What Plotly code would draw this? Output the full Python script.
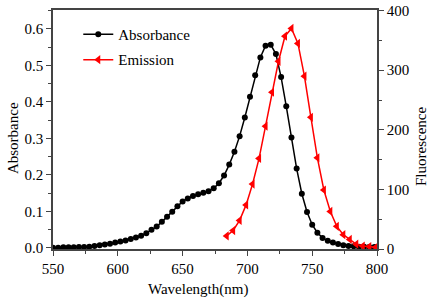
import plotly.graph_objects as go

abs_wl = list(range(550, 799, 4))
abs_val = [0.000, 0.000, 0.001, 0.001, 0.001, 0.002, 0.002, 0.003, 0.005, 0.007,
           0.009, 0.011, 0.014, 0.017, 0.020, 0.024, 0.028, 0.033, 0.040, 0.049,
           0.058, 0.071, 0.085, 0.099, 0.114, 0.127, 0.135, 0.142, 0.147, 0.151,
           0.155, 0.163, 0.177, 0.198, 0.228, 0.263, 0.306, 0.357, 0.414, 0.473,
           0.522, 0.554, 0.557, 0.531, 0.468, 0.388, 0.302, 0.217, 0.148, 0.098,
           0.063, 0.041, 0.027, 0.019, 0.014, 0.010, 0.007, 0.005, 0.004, 0.003,
           0.003, 0.002, 0.002]

em_wl = list(range(684, 800, 5))
em_val = [22, 31, 48, 74, 109, 152, 206, 263, 315, 357, 370, 345, 290, 221,
          153, 99, 63, 38, 24, 16, 8, 5, 4, 3]

x_ticks = [550, 600, 650, 700, 750, 800]
y1_ticks = [0.0, 0.1, 0.2, 0.3, 0.4, 0.5, 0.6]
y2_ticks = [0, 100, 200, 300, 400]

x_title = "Wavelength(nm)"
y1_title = "Absorbance"
y2_title = "Fluorescence"

font = "Liberation Serif, Times New Roman, serif"
axcol = "#444444"

fig = go.Figure()
fig.add_trace(go.Scatter(
    x=abs_wl, y=abs_val, mode="lines+markers", name="Absorbance",
    line=dict(color="black", width=1.5),
    marker=dict(symbol="circle", size=6, color="black"),
    legendgroup="a"))
fig.add_trace(go.Scatter(
    x=em_wl, y=em_val, mode="lines+markers", name="Emission", yaxis="y2",
    line=dict(color="#ff0000", width=1.5),
    marker=dict(symbol="triangle-left", size=8, color="#ff0000"),
    legendgroup="b"))

axis_common = dict(ticks="outside", ticklen=5, tickwidth=1.2, tickcolor=axcol,
                   showline=True, linecolor=axcol, linewidth=1.5,
                   showgrid=False, zeroline=False, automargin=False,
                   ticklabeloverflow="allow",
                   tickfont=dict(size=15, family=font))

fig.update_layout(
    width=431, height=302,
    margin=dict(l=53, r=54, t=10, b=53, autoexpand=False),
    paper_bgcolor="white", plot_bgcolor="white",
    font=dict(family=font, size=15, color="black"),
    showlegend=True,
    legend=dict(x=0.078, y=0.967, xanchor="left", yanchor="top",
                bgcolor="rgba(0,0,0,0)", font=dict(size=15, family=font),
                tracegroupgap=3, traceorder="grouped"),
    xaxis=dict(range=[550, 800], tickvals=x_ticks, mirror=True,
               minor=dict(dtick=25, ticklen=3, ticks="outside", tickcolor=axcol),
               **axis_common),
    yaxis=dict(range=[-0.0035, 0.652], tickvals=y1_ticks, tickformat=".1f",
               minor=dict(dtick=0.05, tick0=0, ticklen=3, ticks="outside", tickcolor=axcol),
               **axis_common),
    yaxis2=dict(range=[0, 401], tickvals=y2_ticks, overlaying="y", side="right",
                minor=dict(dtick=50, tick0=0, ticklen=3, ticks="outside", tickcolor=axcol),
                **axis_common),
    annotations=[
        dict(text=x_title, xref="paper", yref="paper", x=0.449, y=-0.1715,
             xanchor="center", yanchor="middle", showarrow=False,
             font=dict(size=15, family=font)),
        dict(text=y1_title, xref="paper", yref="paper", x=-0.1235, y=0.464,
             xanchor="center", yanchor="middle", showarrow=False, textangle=-90,
             font=dict(size=15, family=font)),
        dict(text=y2_title, xref="paper", yref="paper", x=1.136, y=0.427,
             xanchor="center", yanchor="middle", showarrow=False, textangle=-90,
             font=dict(size=15, family=font)),
    ],
)

# remove the default 8px page margin so the 431x302 figure fills the window
fig.write_html("out.html",
               config={"displayModeBar": False},
               post_script="document.body.style.margin='0px';"
                           "document.body.style.padding='0px';")
